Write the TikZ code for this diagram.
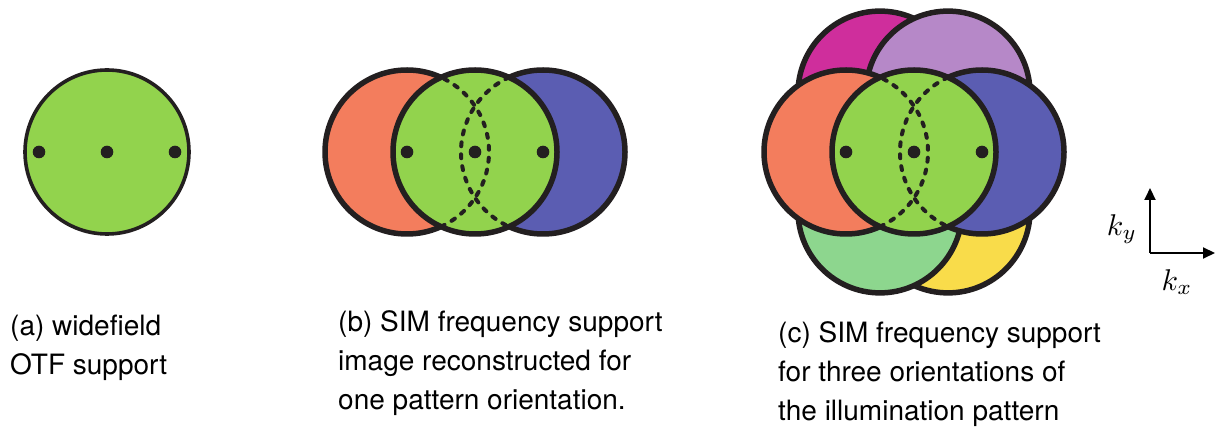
\documentclass[tikz,border=0pt]{standalone}
\usepackage{graphicx}
\usepackage{fontspec}
\setmainfont{TeX Gyre Heros}
\usepackage{tikz}
\usetikzlibrary{arrows.meta, positioning, calc}

\definecolor{otfgreen}{RGB}{146,211,77}
\definecolor{sidered}{RGB}{243,125,93}
\definecolor{sideblue}{RGB}{91,93,178}
\definecolor{sidemag}{RGB}{207,46,156}
\definecolor{sidelilac}{RGB}{182,136,200}
\definecolor{sidemint}{RGB}{141,214,142}
\definecolor{sideyellow}{RGB}{249,220,74}
\definecolor{rim}{RGB}{35,31,32}

\newcommand{\bigk}[1]{\scalebox{3}{$k_{#1}$}}

\begin{document}
\begin{tikzpicture}[x=1pt, y=1pt,
  disc/.style={draw=rim, line width=5.5pt},
  pole/.style={fill=rim},
  seam/.style={draw=rim, line width=4pt, dash pattern=on 4pt off 8pt, line cap=round},
  caption/.style={anchor=base west, align=left, inner sep=0pt,
    font=\fontsize{28}{39}\selectfont},
  axlabel/.style={inner sep=0pt}]
\useasboundingbox (0,0) rectangle (1220,428);

% (a) widefield
\coordinate (a0) at (107,276);
\draw[disc, line width=3.6pt, fill=otfgreen] (a0) circle[radius=82];
\foreach \dx in {-68,0,68}
  \fill[pole] ($(a0)+(\dx,0)$) circle[radius=6.3];

% (b) one orientation
\coordinate (b0) at (475,276);
\draw[disc, fill=sidered] ($(b0)+(-68,0)$) circle[radius=82];
\draw[disc, fill=sideblue] ($(b0)+(68,0)$) circle[radius=82];
\draw[disc, fill=otfgreen] (b0) circle[radius=82];
\draw[seam] ($(b0)+(-68,0)+(-65.5:82)$) arc[start angle=-65.5, end angle=65.5, radius=82];
\draw[seam] ($(b0)+(68,0)+(114.5:82)$) arc[start angle=114.5, end angle=245.5, radius=82];
\foreach \dx in {-68,0,68}
  \fill[pole] ($(b0)+(\dx,0)$) circle[radius=6.3];

% (c) three orientations
\coordinate (c0) at (914,276);
\draw[disc, fill=sidemag] ($(c0)+(120:68)$) circle[radius=82];
\draw[disc, fill=sidelilac] ($(c0)+(60:68)$) circle[radius=82];
\draw[disc, fill=sideyellow] ($(c0)+(-60:68)$) circle[radius=82];
\draw[disc, fill=sidemint] ($(c0)+(-120:68)$) circle[radius=82];
\draw[disc, fill=sidered] ($(c0)+(-68,0)$) circle[radius=82];
\draw[disc, fill=sideblue] ($(c0)+(68,0)$) circle[radius=82];
\draw[disc, fill=otfgreen] (c0) circle[radius=82];
\draw[seam] ($(c0)+(-68,0)+(-65.5:82)$) arc[start angle=-65.5, end angle=65.5, radius=82];
\draw[seam] ($(c0)+(68,0)+(114.5:82)$) arc[start angle=114.5, end angle=245.5, radius=82];
\foreach \dx in {-68,0,68}
  \fill[pole] ($(c0)+(\dx,0)$) circle[radius=6.3];

% axes
\coordinate (origin) at (1150,175);
\coordinate (ytip) at (1150,240);
\coordinate (xtip) at (1215,175);
\draw[line width=2pt, -{Triangle[length=12pt, width=11pt]}] (origin) -- (ytip);
\draw[line width=2pt, -{Triangle[length=12pt, width=11pt]}] (origin) -- (xtip);
\node (ky) [axlabel] at (1122,199) {\bigk{y}};
\node (kx) [axlabel] at (1177,146) {\bigk{x}};

% captions (anchored at the last line)
\node (capa) [caption] at (10,53) {(a) widefield\\OTF support};
\node (capb) [caption] at (338,18) {(b) SIM frequency support\\image reconstructed for\\one pattern orientation.};
\node (capc) [caption] at (778,7) {(c) SIM frequency support\\for three orientations of\\the illumination pattern};
\end{tikzpicture}
\end{document}
